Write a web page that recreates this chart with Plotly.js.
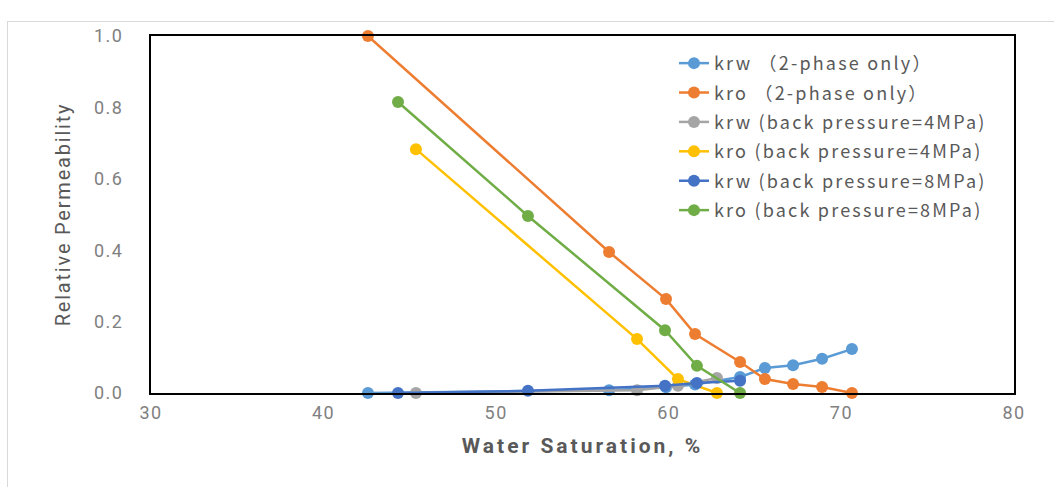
<!DOCTYPE html>
<html>
<head>
<meta charset="utf-8">
<script src="https://cdn.plot.ly/plotly-3.0.1.min.js"></script>
<style>
html,body{margin:0;padding:0;background:#fff;}
#frame{position:absolute;left:7px;top:21px;width:1060px;height:470px;border:1px solid #d9d9d9;box-sizing:border-box;}
#chart{position:absolute;left:0;top:0;width:1054px;height:487px;}
.legendtext{letter-spacing:2.2px;}
.xtitle{letter-spacing:3px;}
.ytitle{letter-spacing:1.8px;}
.xtick text,.ytick text{letter-spacing:1.5px;}
</style>
</head>
<body>
<div id="frame"></div>
<div id="chart"></div>
<script>
// Water saturation (%) and relative permeability values
const sw2phase = [42.57, 56.54, 59.84, 61.52, 64.13, 65.57, 67.20, 68.88, 70.61];
const krw2phase = [0.0, 0.008, 0.016, 0.024, 0.045, 0.070, 0.078, 0.096, 0.123];
const kro2phase = [1.0, 0.395, 0.263, 0.165, 0.087, 0.039, 0.025, 0.017, 0.0];

const sw4MPa = [45.35, 58.16, 60.53, 62.79];
const krw4MPa = [0.0, 0.008, 0.020, 0.042];
const kro4MPa = [0.683, 0.151, 0.039, 0.0];

const sw8MPa = [44.31, 51.84, 59.78, 61.63, 64.13];
const krw8MPa = [0.0, 0.006, 0.020, 0.028, 0.034];
const kro8MPa = [0.815, 0.496, 0.176, 0.076, 0.0];

const seriesNames = [
  "krw （2-phase only）",
  "kro （2-phase only）",
  "krw (back pressure=4MPa)",
  "kro (back pressure=4MPa)",
  "krw (back pressure=8MPa)",
  "kro (back pressure=8MPa)"
];
const seriesColors = ["#5B9BD5", "#ED7D31", "#A5A5A5", "#FFC000", "#4472C4", "#70AD47"];

const xs = [sw2phase, sw2phase, sw4MPa, sw4MPa, sw8MPa, sw8MPa];
const ys = [krw2phase, kro2phase, krw4MPa, kro4MPa, krw8MPa, kro8MPa];

const traces = seriesNames.map((n, i) => ({
  type: "scatter",
  mode: "lines+markers",
  name: n,
  legendgroup: "g" + i,
  x: xs[i],
  y: ys[i],
  line: {color: seriesColors[i], width: 2.5},
  marker: {color: seriesColors[i], size: 12},
  cliponaxis: false
}));

const layout = {
  width: 1054,
  height: 487,
  margin: {l: 151, r: 40, t: 36, b: 94},
  paper_bgcolor: "rgba(0,0,0,0)",
  plot_bgcolor: "#fff",
  showlegend: true,
  legend: {
    x: 0.606, y: 0.975, xanchor: "left", yanchor: "top",
    font: {family: "Noto Sans CJK SC, Noto Sans, sans-serif", size: 18, color: "#595959"},
    bgcolor: "rgba(0,0,0,0)",
    tracegroupgap: 3
  },
  xaxis: {
    range: [30, 80],
    tickvals: [30, 40, 50, 60, 70, 80],
    showgrid: false,
    zeroline: false,
    showline: true,
    mirror: true,
    linecolor: "#000",
    linewidth: 2,
    ticks: "outside",
    ticklen: 2,
    tickcolor: "rgba(0,0,0,0)",
    tickfont: {family: "Roboto, sans-serif", size: 18, color: "#808080"},
    title: {text: "Water Saturation, %", font: {family: "Roboto, sans-serif", size: 21, color: "#595959", weight: "bold"}, standoff: 17}
  },
  yaxis: {
    range: [0, 1.0],
    tickvals: [0, 0.2, 0.4, 0.6, 0.8, 1.0],
    tickformat: ".1f",
    showgrid: false,
    zeroline: false,
    showline: true,
    mirror: true,
    linecolor: "#000",
    linewidth: 2,
    ticks: "outside",
    ticklen: 22,
    tickcolor: "rgba(0,0,0,0)",
    tickfont: {family: "Roboto, sans-serif", size: 18, color: "#808080"},
    title: {text: "Relative Permeability", font: {family: "Roboto, sans-serif", size: 20, color: "#595959"}, standoff: 18}
  }
};

Plotly.newPlot("chart", traces, layout, {displayModeBar: false, staticPlot: true});
</script>
</body>
</html>
